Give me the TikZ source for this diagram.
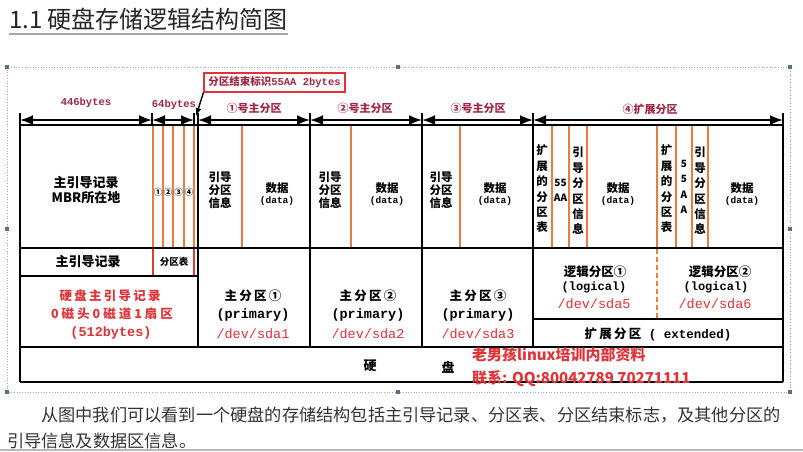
\documentclass[tikz,border=0pt]{standalone}
\usepackage{fontspec}
\setmainfont{Noto Sans CJK SC}
\newfontfamily\monof{Liberation Mono}
\newfontfamily\spcjk[LetterSpace=18]{Noto Sans CJK SC}
\newfontfamily\spcjkb[LetterSpace=24]{Noto Sans CJK SC}
\usetikzlibrary{arrows.meta}
\definecolor{maroon}{RGB}{160,40,70}
\definecolor{org}{RGB}{235,125,60}
\definecolor{redt}{RGB}{225,50,55}
\definecolor{redline}{RGB}{220,60,50}
\definecolor{frameblue}{RGB}{150,172,205}
\definecolor{handle}{RGB}{90,110,140}
\begin{document}
\begin{tikzpicture}[x=1pt,y=-1pt,
  bx/.style={line width=1.8pt,black},
  orl/.style={line width=1.6pt,org},
  tickl/.style={line width=1.6pt,black},
  dim/.style={line width=1.8pt,{Latex[length=13pt,width=10pt]}-{Latex[length=13pt,width=10pt]}},
  toplbl/.style={inner sep=0,text=maroon,font=\bfseries\fontsize{11}{12}\selectfont},
  monolbl/.style={inner sep=0,text=maroon,font=\monof\bfseries\fontsize{10.5}{12}\selectfont},
  cn/.style={inner sep=0,align=center,font=\bfseries\fontsize{11.5}{13}\selectfont},
  vert/.style={inner sep=0,align=center,font=\bfseries\fontsize{11.5}{15.4}\selectfont},
  datal/.style={inner sep=0,font=\monof\bfseries\fontsize{9.5}{11}\selectfont},
  big/.style={inner sep=0,font=\bfseries\fontsize{13}{15}\selectfont},
  sp/.style={inner sep=0,font=\spcjk\bfseries\fontsize{12.5}{15}\selectfont},
  mono/.style={inner sep=0,font=\monof\bfseries\fontsize{13.5}{15}\selectfont},
  dev/.style={inner sep=0,text=redt,font=\monof\fontsize{13.5}{15}\selectfont},
  hnd/.style={fill=handle,minimum size=3.5pt,inner sep=0}
]
\useasboundingbox (0,0) rectangle (803,451);
\fill[white] (0,0) rectangle (803,451);

% title
\node[anchor=west,inner sep=0,text=black!85,font=\fontsize{24}{26}\selectfont] (title) at (9,19) {1.1 硬盘存储逻辑结构简图};
\draw[gray!70,line width=1.6pt] (title.south west |- 0,34) -- (title.south east |- 0,34);

% selection frame
\draw[frameblue,dotted,line width=0.7pt] (7,67) rectangle (790,392);
\foreach \p/\x/\y in {h1/7/67,h2/398/67,h3/790/67,h4/7/229,h5/790/229,h6/7/392,h7/398/392,h8/790/392}
  \node[hnd] (\p) at (\x,\y) {};

% dimension arrows
\foreach \n/\x in {a/20,b/152,c/194,d/198,e/310,f/422,g/533,h/783}
  \coordinate (\n) at (\x,120);
\draw[dim] (a) -- (b);
\draw[dim] (b) -- (c);
\draw[dim] (d) -- (e);
\draw[dim] (e) -- (f);
\draw[dim] (f) -- (g);
\draw[dim] (g) -- (h);
\draw[tickl] (152,113) -- (152,125);
\draw[tickl] (194,113) -- (194,125);

% top labels
\node[monolbl] (l446) at (86,103) {446bytes};
\node[monolbl] (l64) at (174,105) {64bytes};
\node[toplbl] (lp1) at (254,108) {①号主分区};
\node[toplbl] (lp2) at (365,108) {②号主分区};
\node[toplbl] (lp3) at (478,108) {③号主分区};
\node[toplbl] (lp4) at (650,109) {④扩展分区};

% callout
\node[draw=redt,line width=1.2pt,fill=white,minimum width=141pt,minimum height=19pt,inner sep=0,text=maroon,font=\bfseries\fontsize{10.5}{12}\selectfont] (callout) at (274.5,82.5) {分区结束标识{\monof 55AA 2bytes}};
\coordinate (cend) at (196,116);
\draw[line width=1.4pt,-{Latex[length=8pt,width=6pt]}] (callout.south west) -- (cend);

% orange separators (row 1)
\foreach \x in {153,163,173,184,194,242,351,460,552,569,587,657,676,692,708}
  \draw[orl] (\x,126) -- (\x,247);
\draw[orl,redline] (153,249) -- (153,275);
\draw[orl,redline] (194,249) -- (194,275);
\draw[orl,dash pattern=on 5pt off 3pt] (657,249) -- (657,318);

% box lines
\draw[bx] (20,125) -- (783,125);
\draw[bx] (20,248) -- (783,248);
\draw[bx] (20,276) -- (198,276);
\draw[bx] (533,319) -- (783,319);
\draw[bx] (20,347) -- (783,347);
\draw[bx] (20,382) -- (783,382);
\draw[bx] (20,113) -- (20,382);
\draw[bx] (783,113) -- (783,382);
\foreach \x in {198,310,422,533}
  \draw[bx] (\x,113) -- (\x,347);

% row 1
\node[big,align=center,font=\bfseries\fontsize{13}{14.5}\selectfont] (mbr1) at (86,190) {主引导记录\\MBR所在地};
\foreach \i/\x/\s in {1/158/①,2/168/②,3/178.5/③,4/189/④}
  \node[inner sep=0,font=\bfseries\fontsize{8.5}{10}\selectfont] (cc\i) at (\x,192) {\s};
\foreach \i/\gx/\dx in {1/220/277,2/330/387,3/441/495}{
  \node[cn] (g\i) at (\gx,190) {引导\\分区\\信息};
  \node[cn] (d\i) at (\dx,188) {数据};
  \node[datal] (dd\i) at (\dx,201) {(data)};
}
\node[vert] (ept1) at (542,189) {扩\\展\\的\\分\\区\\表};
\node[inner sep=0,align=center,font=\bfseries\fontsize{10}{15}\selectfont] (aa1) at (560.5,190) {55\\AA};
\node[vert] (yd1) at (578,191) {引\\导\\分\\区\\信\\息};
\node[cn] (d4) at (618,188) {数据};
\node[datal] (dd4) at (618,201) {(data)};
\node[vert] (ept2) at (666.5,189) {扩\\展\\的\\分\\区\\表};
\node[inner sep=0,align=center,font=\bfseries\fontsize{10}{15.3}\selectfont] (aa2) at (684,187) {5\\5\\A\\A};
\node[vert] (yd2) at (700,191) {引\\导\\分\\区\\信\\息};
\node[cn] (d5) at (742,188) {数据};
\node[datal] (dd5) at (742,201) {(data)};

% row 2
\node[big] (mbr2) at (88,262) {主引导记录};
\node[inner sep=0,font=\bfseries\fontsize{9.5}{11}\selectfont] (ptab) at (174,262) {分区表};
\node[inner sep=0,text=redt,font=\spcjk\bfseries\fontsize{12.5}{14}\selectfont] (r1) at (110,296) {硬盘主引导记录};
\node[inner sep=0,text=redt,font=\spcjkb\bfseries\fontsize{12.5}{14}\selectfont] (r2) at (112,314) {0磁头0磁道1扇区};
\node[inner sep=0,text=redt,font=\monof\bfseries\fontsize{13.5}{15}\selectfont] (r3) at (111,333) {(512bytes)};

\foreach \i/\x/\c in {1/253/①,2/368/②,3/478/③}{
  \node[sp] (pp\i) at (\x,296) {主分区\c};
  \node[mono] (pr\i) at (\x,315) {(primary)};
  \node[dev] (sd\i) at (\x,334) {/dev/sda\i};
}
\node[big,font=\bfseries\fontsize{12.5}{14}\selectfont] (lg1) at (595,272) {逻辑分区①};
\node[mono,font=\monof\bfseries\fontsize{12}{14}\selectfont] (lo1) at (594,287) {(logical)};
\node[dev] (sd5) at (594,304) {/dev/sda5};
\node[big,font=\bfseries\fontsize{12.5}{14}\selectfont] (lg2) at (720,272) {逻辑分区②};
\node[mono,font=\monof\bfseries\fontsize{12}{14}\selectfont] (lo2) at (716,287) {(logical)};
\node[dev] (sd6) at (715,304) {/dev/sda6};
\node[inner sep=0] (ext) at (658,334) {{\spcjk\bfseries\fontsize{12.5}{14}\selectfont 扩展分区}{\monof\bfseries\fontsize{12.5}{14}\selectfont\ ( extended)}};

% bottom row
\node[big] (hd1) at (370,366) {硬};
\node[big] (hd2) at (448,367) {盘};
\node[anchor=west,inner sep=0,text=redt,font=\bfseries\fontsize{15}{17}\selectfont] (wm1) at (472,355) {老男孩linux培训内部资料};
\node[anchor=west,inner sep=0,text=redt,font=\bfseries\fontsize{15}{17}\selectfont] (wm2) at (472,379) {联系: QQ:80042789 70271111};

% paragraph
\node[anchor=west,inner sep=0,text=black!80,font=\fontsize{17.2}{20}\selectfont] (para1) at (41,415) {从图中我们可以看到一个硬盘的存储结构包括主引导记录、分区表、分区结束标志，及其他分区的};
\node[anchor=west,inner sep=0,text=black!80,font=\fontsize{17.2}{20}\selectfont] (para2) at (7,441) {引导信息及数据区信息。};
\draw[gray!55,line width=2pt] (0,450) -- (803,450);
\end{tikzpicture}
\end{document}
